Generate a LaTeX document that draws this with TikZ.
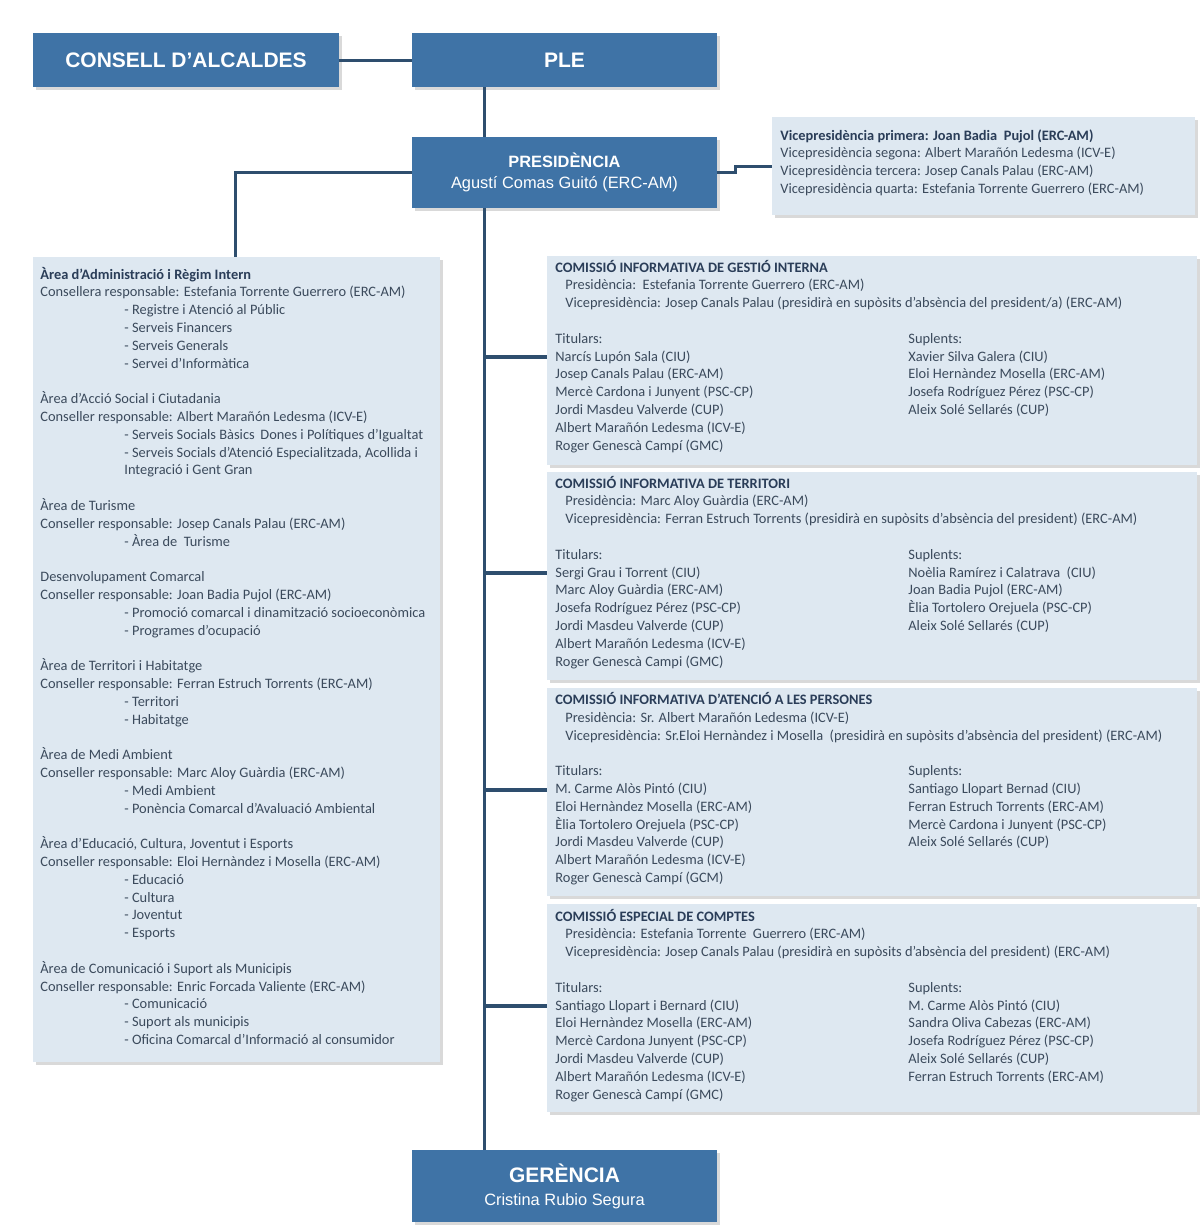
\documentclass[tikz,border=0pt]{standalone}
\usepackage{fontspec}
\setmainfont{Carlito}
\newfontfamily\hd{Liberation Sans}
\definecolor{dblue}{HTML}{3F73A6}
\definecolor{lblue}{HTML}{DEE8F1}
\definecolor{shd}{HTML}{D9D9D9}
\definecolor{line}{HTML}{2E4E6E}
\definecolor{txt}{HTML}{3B4A5C}
\definecolor{hdc}{HTML}{2A3D58}
\newcommand\Ii{\hspace*{42pt}}
\newcommand\Jj{\hspace*{5pt}}
\newcommand\Lines[4]{\foreach \t [count=\i from 0] in {#4}{\node[tx,anchor=base west,name=#1-\i] at ({#2},{#3+\i*17.8}) {\t};}}
\begin{document}
\begin{tikzpicture}[x=0.5pt,y=-0.5pt,
 tx/.style={inner sep=0pt,text=txt,font=\fontsize{7.2pt}{8.9pt}\selectfont},
 dbox/.style={fill=dblue,text=white,inner sep=0pt,align=center},
 con/.style={draw=line,line width=1.5pt},
 br/.style={draw=line,line width=2.2pt}]
\useasboundingbox (0,0) rectangle (1200,1226);
% shadows
\foreach \a/\b/\c/\d in {33/33/339/87,412/33/717/87,412/137/717/208,412/1150/717/1222,772/117/1195/215,33/257/440/1062,547/256/1197/465,547/472/1197/680,547/688/1197/896,547/904/1197/1112}
  \fill[shd] (\a+3,\b+3) rectangle (\c+3,\d+3);
\node[dbox,minimum width=153pt,minimum height=27pt,font=\hd\bfseries\fontsize{10.5pt}{12pt}\selectfont] (ca) at (186,60) {CONSELL D’ALCALDES};
\node[dbox,minimum width=152.5pt,minimum height=27pt,font=\hd\bfseries\fontsize{10.5pt}{12pt}\selectfont] (ple) at (564.5,60) {PLE};
\node[dbox,minimum width=152.5pt,minimum height=35.5pt,font=\hd\fontsize{8.2pt}{10.6pt}\selectfont] (pres) at (564.5,172.5) {{\bfseries PRESIDÈNCIA}\\Agustí Comas Guitó (ERC-AM)};
\node[dbox,minimum width=152.5pt,minimum height=36pt,font=\hd\fontsize{8.2pt}{11.5pt}\selectfont] (ger) at (564.5,1186) {{\bfseries\fontsize{10.5pt}{12pt}\selectfont GERÈNCIA}\\Cristina Rubio Segura};
\node[fill=lblue,minimum width=211.5pt,minimum height=49pt,inner sep=0pt] (vice) at (983.5,166) {};
\node[fill=lblue,minimum width=203.5pt,minimum height=402.5pt,inner sep=0pt] (la) at (236.5,659.5) {};
\node[fill=lblue,minimum width=325pt,minimum height=104.5pt,inner sep=0pt] (c1) at (872,360.5) {};
\node[fill=lblue,minimum width=325pt,minimum height=104pt,inner sep=0pt] (c2) at (872,576) {};
\node[fill=lblue,minimum width=325pt,minimum height=104pt,inner sep=0pt] (c3) at (872,792) {};
\node[fill=lblue,minimum width=325pt,minimum height=104pt,inner sep=0pt] (c4) at (872,1008) {};
% connectors
\coordinate (tr) at (484,0);
\coordinate (lt) at (235,257);
\coordinate (vk) at (735,172.5);
\draw[con] (ca.east) -- (ple.west);
\draw[con] (tr |- ple.south) -- (tr |- pres.north);
\draw[con] (tr |- pres.south) -- (tr |- ger.north);
\draw[con] (pres.west) -| (lt);
\draw[con] (pres.east) -- (vk) |- (vice.west);
\coordinate (k1) at (484,357); \coordinate (k2) at (484,573);
\coordinate (k3) at (484,790); \coordinate (k4) at (484,1006);
\draw[br] (k1) -- (k1 -| c1.west);
\draw[br] (k2) -- (k2 -| c2.west);
\draw[br] (k3) -- (k3 -| c3.west);
\draw[br] (k4) -- (k4 -| c4.west);
% vice text
\Lines{v}{780}{140}{{\textbf{\color{hdc}Vicepresidència primera: Joan Badia\ \ Pujol (ERC-AM)}},Vicepresidència segona: Albert Marañón Ledesma (ICV-E),Vicepresidència tercera: Josep Canals Palau (ERC-AM),Vicepresidència quarta: Estefania Torrente Guerrero (ERC-AM)}
% left text
\Lines{a}{40}{279}{{\textbf{\color{hdc}Àrea d’Administració i Règim Intern}},Consellera responsable: Estefania Torrente Guerrero (ERC-AM),\Ii- Registre i Atenció al Públic,\Ii- Serveis Financers,\Ii- Serveis Generals,\Ii- Servei d’Informàtica,{},
Àrea d’Acció Social i Ciutadania,Conseller responsable: Albert Marañón Ledesma (ICV-E),\Ii- Serveis Socials Bàsics\, Dones i Polítiques d’Igualtat,{\Ii- Serveis Socials d’Atenció Especialitzada, Acollida i},\Ii Integració i Gent Gran,{},
Àrea de Turisme,Conseller responsable: Josep Canals Palau (ERC-AM),\Ii- Àrea de\ \ Turisme,{},
Desenvolupament Comarcal,Conseller responsable: Joan Badia Pujol (ERC-AM),\Ii- Promoció comarcal i dinamització socioeconòmica,\Ii- Programes d’ocupació,{},
Àrea de Territori i Habitatge,Conseller responsable: Ferran Estruch Torrents (ERC-AM),\Ii- Territori,\Ii- Habitatge,{},
Àrea de Medi Ambient,Conseller responsable: Marc Aloy Guàrdia (ERC-AM),\Ii- Medi Ambient,\Ii- Ponència Comarcal d’Avaluació Ambiental,{},
{Àrea d’Educació, Cultura, Joventut i Esports},Conseller responsable: Eloi Hernàndez i Mosella (ERC-AM),\Ii- Educació,\Ii- Cultura,\Ii- Joventut,\Ii- Esports,{},
Àrea de Comunicació i Suport als Municipis,Conseller responsable: Enric Forcada Valiente (ERC-AM),\Ii- Comunicació,\Ii- Suport als municipis,\Ii- Oficina Comarcal d’Informació al consumidor}
% commission 1
\Lines{p}{555}{272}{{\textbf{\color{hdc}COMISSIÓ INFORMATIVA DE GESTIÓ INTERNA}},\Jj Presidència:\ \ Estefania Torrente Guerrero (ERC-AM),\Jj Vicepresidència: Josep Canals Palau (presidirà en supòsits d’absència del president/a) (ERC-AM),{},Titulars:,Narcís Lupón Sala (CIU),Josep Canals Palau (ERC-AM),Mercè Cardona i Junyent (PSC-CP),Jordi Masdeu Valverde (CUP),Albert Marañón Ledesma (ICV-E),Roger Genescà Campí (GMC)}
\Lines{q}{908}{343.2}{Suplents:,Xavier Silva Galera (CIU),Eloi Hernàndez Mosella (ERC-AM),Josefa Rodríguez Pérez (PSC-CP),Aleix Solé Sellarés (CUP)}
% commission 2
\Lines{r}{555}{488}{{\textbf{\color{hdc}COMISSIÓ INFORMATIVA DE TERRITORI}},\Jj Presidència: Marc Aloy Guàrdia (ERC-AM),\Jj Vicepresidència: Ferran Estruch Torrents (presidirà en supòsits d’absència del president) (ERC-AM),{},Titulars:,Sergi Grau i Torrent (CIU),Marc Aloy Guàrdia (ERC-AM),Josefa Rodríguez Pérez (PSC-CP),Jordi Masdeu Valverde (CUP),Albert Marañón Ledesma (ICV-E),Roger Genescà Campi (GMC)}
\Lines{s}{908}{559.2}{Suplents:,Noèlia Ramírez i Calatrava\ \ (CIU),Joan Badia Pujol (ERC-AM),Èlia Tortolero Orejuela (PSC-CP),Aleix Solé Sellarés (CUP)}
% commission 3
\Lines{u}{555}{704.5}{{\textbf{\color{hdc}COMISSIÓ INFORMATIVA D'ATENCIÓ A LES PERSONES}},\Jj Presidència: Sr. Albert Marañón Ledesma (ICV-E),\Jj Vicepresidència: Sr.Eloi Hernàndez i Mosella\ \ (presidirà en supòsits d’absència del president) (ERC-AM),{},Titulars:,M. Carme Alòs Pintó (CIU),Eloi Hernàndez Mosella (ERC-AM),Èlia Tortolero Orejuela (PSC-CP),Jordi Masdeu Valverde (CUP),Albert Marañón Ledesma (ICV-E),Roger Genescà Campí (GCM)}
\Lines{w}{908}{775.7}{Suplents:,Santiago Llopart Bernad (CIU),Ferran Estruch Torrents (ERC-AM),Mercè Cardona i Junyent (PSC-CP),Aleix Solé Sellarés (CUP)}
% commission 4
\Lines{y}{555}{921}{{\textbf{\color{hdc}COMISSIÓ ESPECIAL DE COMPTES}},\Jj Presidència: Estefania Torrente\ \ Guerrero (ERC-AM),\Jj Vicepresidència: Josep Canals Palau (presidirà en supòsits d’absència del president) (ERC-AM),{},Titulars:,Santiago Llopart i Bernard (CIU),Eloi Hernàndez Mosella (ERC-AM),Mercè Cardona Junyent (PSC-CP),Jordi Masdeu Valverde (CUP),Albert Marañón Ledesma (ICV-E),Roger Genescà Campí (GMC)}
\Lines{z}{908}{992.2}{Suplents:,M. Carme Alòs Pintó (CIU),Sandra Oliva Cabezas (ERC-AM),Josefa Rodríguez Pérez (PSC-CP),Aleix Solé Sellarés (CUP),Ferran Estruch Torrents (ERC-AM)}
\end{tikzpicture}
\end{document}
